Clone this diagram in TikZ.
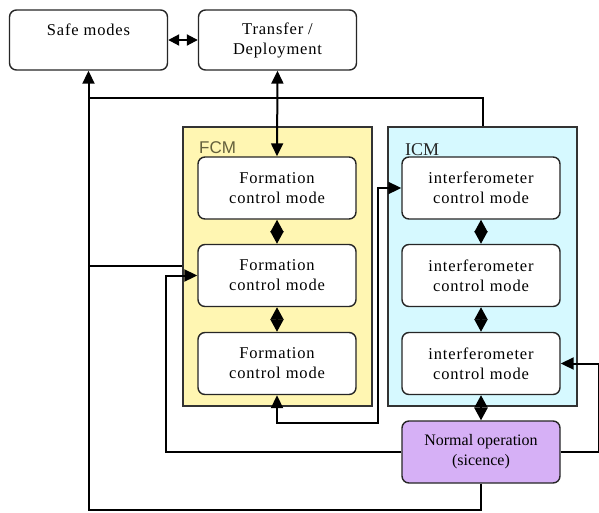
\documentclass[tikz,border=0pt]{standalone}
\usepackage{fontspec}
\setmainfont{Liberation Serif}
\newfontfamily\boxfont[LetterSpace=5]{Liberation Serif}
\newfontfamily\labsans{Liberation Sans}
\usetikzlibrary{arrows.meta,calc}
\definecolor{fcmfill}{RGB}{255,246,178}
\definecolor{icmfill}{RGB}{214,249,255}
\definecolor{normfill}{RGB}{214,176,246}
\definecolor{fcmtext}{RGB}{100,96,60}
\begin{document}
\begin{tikzpicture}[x=1pt,y=-1pt,
  modebox/.style={draw=black!85, line width=1.4pt, rounded corners=7pt, fill=white,
    minimum width=158pt, minimum height=62pt, align=center, inner sep=0pt,
    font=\boxfont\fontsize{16.5}{20}\selectfont},
  container/.style={draw=black!80, line width=1.6pt, minimum width=189pt, minimum height=279pt, inner sep=0pt},
  conn/.style={line width=2pt, black},
  tip/.style={-{Triangle[length=13pt,width=12pt]}},
  bitip/.style={{Triangle[length=13pt,width=12pt]}-{Triangle[length=13pt,width=12pt]}},
  diam/.style={{Triangle[length=12.5pt,width=13pt]}-{Triangle[length=12.5pt,width=13pt]}},
  smalldiam/.style={{Triangle[length=11pt,width=11pt]}-{Triangle[length=11pt,width=11pt]}},
  lab/.style={anchor=base west, inner sep=0pt}
]
\fill[white] (0,0) rectangle (599,512);
\useasboundingbox (0,0) rectangle (599,512);

% containers
\node[container, fill=fcmfill] (fcm) at (277.5,266.5) {};
\node[container, fill=icmfill] (icm) at (482.5,266.5) {};
\node[lab, text=fcmtext, font=\labsans\fontsize{17}{20}\selectfont] (fcmlab) at (199,153) {FCM};
\node[lab, text=black!85, font=\fontsize{18}{20}\selectfont] (icmlab) at (405,155) {ICM};

% top boxes
\node[modebox, minimum height=60pt] (safe) at (88.5,40) {Safe modes\\\mbox{}};
\node[modebox, minimum height=60pt] (transfer) at (277.5,40) {Transfer /\\Deployment};

% FCM boxes
\node[modebox] (f1) at (277,188) {Formation\\control mode};
\node[modebox] (f2) at (277,275.5) {Formation\\control mode};
\node[modebox] (f3) at (277,363.5) {Formation\\control mode};

% ICM boxes
\node[modebox] (i1) at (481,188) {interferometer\\control mode};
\node[modebox] (i2) at (481,275.5) {interferometer\\control mode};
\node[modebox] (i3) at (481,363.5) {interferometer\\control mode};

% normal operation
\node[modebox, fill=normfill, font=\fontsize{16}{20}\selectfont] (normal) at (481,452) {Normal operation\\(sicence)};

% coordinates for free ends / junctions
\coordinate (jtop) at (88.5,98);
\coordinate (jmid) at (88.5,266);
\coordinate (jbot) at (88.5,510);
\coordinate (cnr) at (378,188);

% connectors
\draw[conn, smalldiam] (safe.east) -- (transfer.west);
\draw[conn, bitip] (transfer.south) -- (f1.north);
\draw[conn, diam] (f1.south) -- (f2.north);
\draw[conn, diam] (f2.south) -- (f3.north);
\draw[conn, diam] (i1.south) -- (i2.north);
\draw[conn, diam] (i2.south) -- (i3.north);
\draw[conn, diam] (i3.south) -- (normal.north);

\draw[conn, tip] (normal.south) |- (jbot) -- (safe.south);
\draw[conn] (icm.north) |- (jtop);
\draw[conn] (fcm.west |- jmid) -- (jmid);
\draw[conn, tip] (normal.west) -- ++(-235,0) |- (f2.west);
\draw[conn, tip] (normal.east) -- ++(38,0) |- (i3.east);
\draw[conn, bitip] (f3.south) -- ++(0,28) -| (cnr) -- (i1.west);
\end{tikzpicture}
\end{document}
